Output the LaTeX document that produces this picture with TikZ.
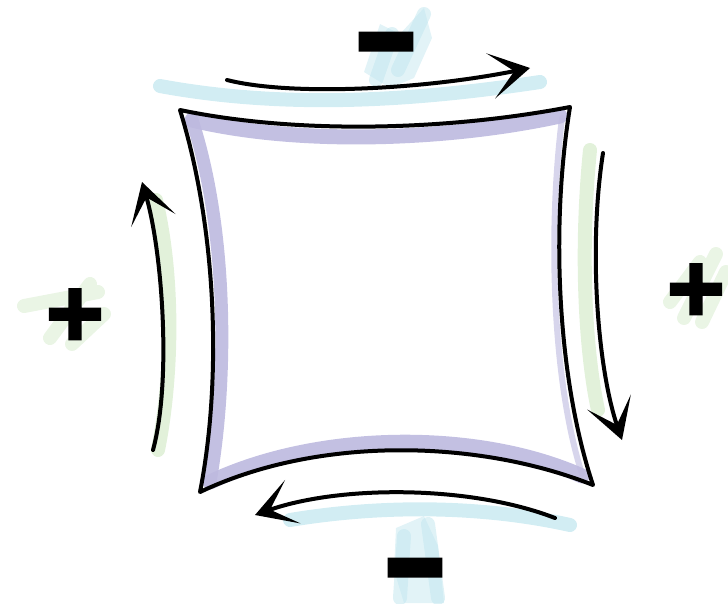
\documentclass[tikz,border=0pt]{standalone}
\usepackage{fontspec}
\usepackage{tikz}
\usetikzlibrary{arrows.meta}
\newfontfamily\plusfont{DejaVu Sans Bold}[FakeBold=6]
\newfontfamily\minusfont{DejaVu Sans Bold}[FakeBold=18]
\definecolor{shadow}{HTML}{BDB9DF}
\definecolor{splashblue}{HTML}{BFE5EE}
\definecolor{splashgreen}{HTML}{D5EBCB}
\tikzset{
  sketch/.style={line width=4pt, line cap=round, line join=round},
  flow/.style={sketch, -{Stealth[length=40pt,width=46pt,inset=24pt]}},
  band/.style={line width=14pt, line cap=round, opacity=.7},
  streak/.style={line width=14pt, line cap=round, opacity=.5},
  sign/.style={inner sep=0pt, text depth=0pt},
  plussign/.style={sign, font=\plusfont\fontsize{76}{76}\selectfont, text height=48pt},
  minussign/.style={sign, font=\minusfont\fontsize{68}{68}\selectfont, text height=44pt},
}

\begin{document}
\begin{tikzpicture}[x=1pt,y=-1pt]
\useasboundingbox (0,0) rectangle (728,603);

\draw[band,splashblue] (160,86) .. controls (290,110) and (420,100) .. (540,82);
\fill[splashblue,opacity=.45] (364,72) -- (380,24) -- (400,34) -- (424,8) -- (432,38) -- (414,78) -- (390,88) -- cycle;
\draw[streak,splashblue] (376,80) -- (392,34) (398,70) -- (424,14);
\draw[band,splashblue] (290,520) .. controls (380,505) and (480,505) .. (570,525);
\fill[splashblue,opacity=.45] (396,528) -- (424,516) -- (438,546) -- (444,603) -- (404,603) -- (394,570) -- cycle;
\draw[streak,splashblue] (404,536) -- (400,598) (428,524) -- (438,598);
\draw[band,splashgreen] (590,150) .. controls (580,250) and (585,350) .. (598,410);
\draw[streak,splashgreen] (670,302) -- (700,262) (684,318) -- (716,254) (702,322) -- (726,272);
\draw[band,splashgreen] (156,200) .. controls (175,280) and (172,380) .. (158,450);
\draw[streak,splashgreen] (24,306) -- (98,292) (50,338) -- (90,284) (72,344) -- (104,314);

\draw[shadow,line width=15pt,line cap=round,opacity=.9] (192,120) .. controls (300,146) and (450,140) .. (560,116);
\draw[shadow,line width=13pt,line cap=round,opacity=.9] (192,120) .. controls (228,230) and (228,380) .. (210,482);
\draw[shadow,line width=15pt,line cap=round,opacity=.9] (210,482) .. controls (320,430) and (480,430) .. (582,476);
\draw[shadow,line width=6pt,line cap=round,opacity=.6] (562,118) .. controls (548,230) and (552,380) .. (582,474);
\draw[sketch] (180,110) .. controls (300,135) and (450,130) .. (570,107)
  .. controls (550,230) and (558,380) .. (593,485) .. controls (480,440) and (320,435) .. (200,492)
  .. controls (222,380) and (217,230) .. (180,110) -- cycle;

\draw[flow] (227,80) .. controls (290,96) and (420,90) .. (530,68);
\draw[flow] (603,153) .. controls (588,250) and (598,370) .. (622,440);
\draw[flow] (555,518) .. controls (470,485) and (340,485) .. (255,515);
\draw[flow] (153,450) .. controls (172,380) and (162,250) .. (142,182);

\node[minussign] (topminus) at (386,41) {−};
\node[plussign] (rightplus) at (696,289) {+};
\node[minussign] (bottomminus) at (415,567) {−};
\node[plussign] (leftplus) at (75,314) {+};
\end{tikzpicture}
\end{document}
